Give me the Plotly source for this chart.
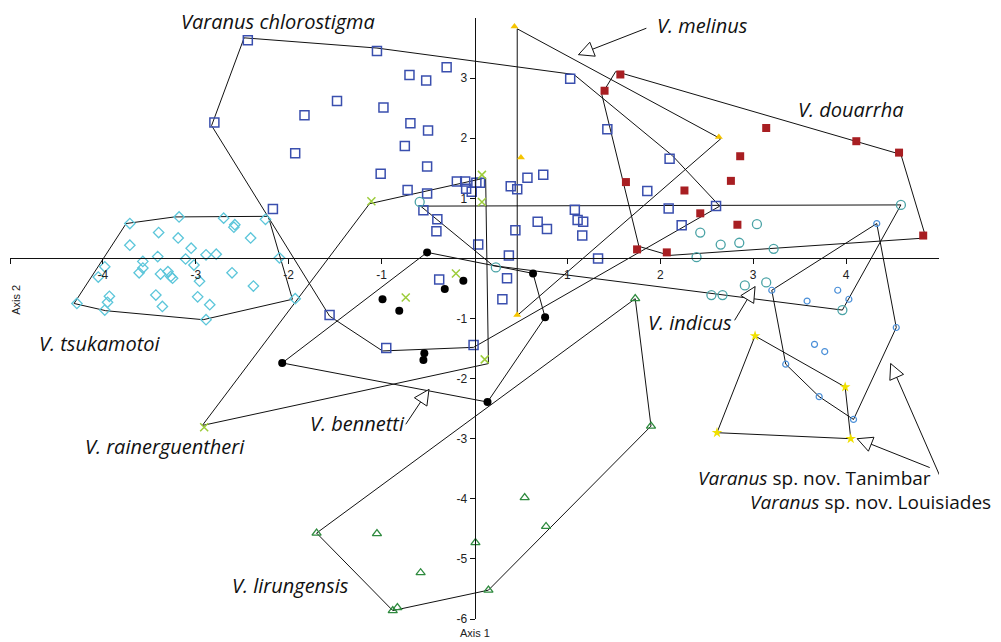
import math
import plotly.graph_objects as go

# ---------------- data ----------------
tsuk_x = [-3.71, -3.18, -2.70, -2.58, -2.59, -2.25, -3.40, -3.19, -2.41, -3.71, -3.05, -2.89, -2.78,
          -3.41, -3.11, -3.57, -2.10, -3.02, -3.98, -3.57, -4.05, -3.61, -3.30, -3.38, -3.27, -3.25,
          -2.61, -2.96, -2.38, -3.93, -3.95, -3.43, -2.98, -3.36, -2.85, -4.28, -3.98, -2.89, -1.93]
tsuk_y = [0.58, 0.69, 0.67, 0.56, 0.52, 0.65, 0.43, 0.34, 0.34, 0.22, 0.17, 0.06, 0.07,
          0.03, -0.01, -0.05, 0.01, -0.11, -0.14, -0.16, -0.31, -0.24, -0.22, -0.26, -0.30, -0.33,
          -0.24, -0.38, -0.46, -0.63, -0.73, -0.61, -0.64, -0.80, -0.77, -0.75, -0.86, -1.02, -0.67]
tsuk_hull_x = [-3.75, -3.23, -2.22, -1.96, -2.92, -3.97, -4.31]
tsuk_hull_y = [0.58, 0.69, 0.70, -0.68, -1.02, -0.87, -0.75]

chlo_x = [-2.44, -1.05, -0.30, -0.70, -0.52, -2.80, -1.48, -1.83, -0.98, -0.69, -0.50, -1.93, -0.75,
          -0.51, -1.01, -0.72, -0.51, -2.17, -0.19, -0.10, 0.02, 0.06, -0.09, -0.03, -0.55, -0.40,
          -0.41, 0.04, 0.37, 0.44, -0.38, 0.35, 0.30, -1.56, -0.95, -0.01, 0.39, 0.46, 0.57, 0.74,
          0.68, 0.78, 1.08, 1.11, 1.17, 1.16, 1.33, 1.03, 1.43, 2.10, 1.86, 2.09, 2.23, 2.60]
chlo_y = [3.63, 3.45, 3.18, 3.05, 2.96, 2.26, 2.62, 2.38, 2.51, 2.25, 2.13, 1.75, 1.87,
          1.53, 1.41, 1.14, 1.08, 0.82, 1.28, 1.28, 1.26, 1.26, 1.16, 1.11, 0.80, 0.65,
          0.45, 0.23, 0.05, 0.47, -0.35, -0.33, -0.68, -0.94, -1.49, -1.44, 1.20, 1.15, 1.34, 1.39,
          0.61, 0.49, 0.81, 0.64, 0.61, 0.38, 0.00, 2.99, 2.15, 1.66, 1.12, 0.83, 0.55, 0.87]
chlo_hull_x = [-2.48, -1.05, 1.07, 2.13, 2.64, -0.01, -0.99, -1.56, -2.83]
chlo_hull_y = [3.67, 3.50, 3.06, 1.71, 0.87, -1.48, -1.54, -0.96, 2.21]

rain_x = [-1.11, 0.08, 0.08, -0.20, -0.74, 0.11, -2.91]
rain_y = [0.95, 1.39, 0.94, -0.25, -0.65, -1.68, -2.81]
rain_hull_x = [-1.13, 0.12, 0.15, -2.93]
rain_hull_y = [0.91, 1.34, -1.75, -2.78]

benn_x = [-0.51, -0.12, -0.32, -0.99, -0.81, -0.54, -0.55, -2.07, 0.14, 0.63, 0.76]
benn_y = [0.10, -0.37, -0.51, -0.68, -0.87, -1.58, -1.69, -1.74, -2.39, -0.25, -0.98]
benn_hull_x = [-0.51, 0.63, 0.76, 0.14, -2.07]
benn_hull_y = [0.10, -0.25, -0.98, -2.39, -1.74]

meli_x = [0.43, 0.50, 2.63, 0.46]
meli_y = [3.86, 1.68, 2.02, -0.94]
meli_hull_x = [0.46, 2.65, 0.46]
meli_hull_y = [3.82, 1.99, -0.95]

doua_x = [1.57, 1.40, 1.63, 2.26, 2.43, 2.76, 2.86, 2.83, 1.75, 2.07, 3.14, 4.11, 4.57, 4.83]
doua_y = [3.06, 2.79, 1.27, 1.13, 0.75, 1.29, 1.70, 0.56, 0.15, 0.10, 2.17, 1.95, 1.76, 0.38]
doua_hull_x = [1.52, 4.59, 4.86, 2.10, 1.77, 1.37]
doua_hull_y = [3.11, 1.73, 0.34, 0.05, 0.20, 2.73]

indi_x = [-0.59, 0.23, 4.59, 3.04, 2.43, 2.65, 2.85, 3.22, 2.39, 2.91, 3.14, 2.55, 2.67, 3.96]
indi_y = [0.94, -0.15, 0.89, 0.57, 0.43, 0.23, 0.26, 0.16, 0.02, -0.45, -0.40, -0.61, -0.61, -0.86]
indi_hull_x = [-0.58, 4.59, 3.96, 0.20]
indi_hull_y = [0.87, 0.89, -0.86, -0.12]

loui_x = [4.33, 3.20, 3.91, 3.58, 4.03, 4.54, 3.66, 3.77, 3.35, 3.71, 4.08]
loui_y = [0.58, -0.53, -0.53, -0.71, -0.68, -1.15, -1.43, -1.55, -1.76, -2.30, -2.68]
loui_hull_x = [4.33, 4.54, 4.08, 3.71, 3.35, 3.20]
loui_hull_y = [0.58, -1.15, -2.68, -2.30, -1.76, -0.53]

tani_x = [3.02, 3.99, 4.05, 2.61]
tani_y = [-1.29, -2.14, -3.00, -2.90]
tani_hull_x = [3.02, 3.99, 4.05, 2.61]
tani_hull_y = [-1.29, -2.14, -3.00, -2.90]

liru_x = [1.73, 1.90, 0.54, 0.77, 0.01, 0.15, -0.83, -0.88, -0.58, -1.05, -1.70]
liru_y = [-0.67, -2.79, -3.98, -4.46, -4.73, -5.52, -5.81, -5.86, -5.23, -4.58, -4.57]
liru_hull_x = [1.73, 1.90, 0.15, -0.88, -1.70]
liru_hull_y = [-0.67, -2.79, -5.52, -5.86, -4.57]

x_ticks = [-5, -4, -3, -2, -1, 1, 2, 3, 4]
y_ticks = [-6, -5, -4, -3, -2, -1, 1, 2, 3]

# species labels: text, x, y (data coordinates)
label_text = ["V. melinus", "V. douarrha", "V. tsukamotoi",
              "V. rainerguentheri", "V. bennetti", "V. indicus", "V. lirungensis"]
label_x = [2.45, 4.05, -4.03, -3.33, -1.26, 2.32, -1.98]
label_y = [3.88, 2.48, -1.41, -3.13, -2.75, -1.07, -5.44]

# pointer arrows: tail -> tip
arrow_tail_x = [1.85, -0.74, 2.80, 4.90, 5.06]
arrow_tail_y = [3.83, -2.76, -1.03, -3.48, -3.80]
arrow_tip_x = [1.12, -0.49, 3.02, 4.12, 4.48]
arrow_tip_y = [3.39, -2.18, -0.47, -3.00, -1.75]

# ---------------- figure ----------------
# the page has an 8px body margin, so the figure is 8px smaller than the window
W, H = 993, 634
ML, MR, MT, MB = 2, 62, 10, 23
XR = [-5, 5]
YR = [-6, 4.0]
ppx = (W - ML - MR) / (XR[1] - XR[0])
ppy = (H - MT - MB) / (YR[1] - YR[0])

fig = go.Figure()

hulls = [(tsuk_hull_x, tsuk_hull_y), (chlo_hull_x, chlo_hull_y), (rain_hull_x, rain_hull_y),
         (benn_hull_x, benn_hull_y), (meli_hull_x, meli_hull_y), (doua_hull_x, doua_hull_y),
         (indi_hull_x, indi_hull_y), (loui_hull_x, loui_hull_y), (tani_hull_x, tani_hull_y),
         (liru_hull_x, liru_hull_y)]
for hx, hy in hulls:
    fig.add_trace(go.Scatter(x=hx + hx[:1], y=hy + hy[:1], mode="lines",
                             line=dict(color="#111111", width=1), hoverinfo="skip",
                             showlegend=False))

def pts(x, y, symbol, color, size, lw=1.3, fill=None):
    fig.add_trace(go.Scatter(
        x=x, y=y, mode="markers", showlegend=False,
        marker=dict(symbol=symbol, size=size, color=fill if fill else color,
                    line=dict(color=color, width=lw))))

pts(tsuk_x, tsuk_y, "diamond-open", "#5cc6da", 8)
pts(chlo_x, chlo_y, "square-open", "#3a4fae", 9, 1.5)
pts(rain_x, rain_y, "x-thin-open", "#9ccc3a", 8, 1.5)
pts(benn_x, benn_y, "circle", "#000000", 8, 0)
pts(meli_x, meli_y, "triangle-up", "#f5c400", 7, 0)
pts(doua_x, doua_y, "square", "#a81e22", 8, 0)
pts(indi_x, indi_y, "circle-open", "#4aa3a6", 9, 1.3)
pts(loui_x, loui_y, "circle-open", "#4a8fd8", 6, 1.2)
pts(tani_x, tani_y, "star", "#f0e000", 8, 0)
pts(liru_x, liru_y, "triangle-up-open", "#2e8a3e", 8, 1.3)

# arrows
for tx, ty, hx, hy in zip(arrow_tail_x, arrow_tail_y, arrow_tip_x, arrow_tip_y):
    fig.add_trace(go.Scatter(x=[tx, hx], y=[ty, hy], mode="lines",
                             line=dict(color="#111111", width=1), hoverinfo="skip",
                             showlegend=False))
    dx = (hx - tx) * ppx
    dy = -(hy - ty) * ppy
    ang = math.degrees(math.atan2(dx, -dy))
    fig.add_trace(go.Scatter(x=[hx], y=[hy], mode="markers", hoverinfo="skip", showlegend=False,
                             marker=dict(symbol="arrow-up", size=15, angle=ang, color="white",
                                         line=dict(color="#111111", width=1))))

LFONT = "Open Sans"
LCOL = "#111111"
for t, x, y in zip(label_text, label_x, label_y):
    fig.add_annotation(x=x, y=y, text="<i>%s</i>" % t, showarrow=False,
                       font=dict(family=LFONT, size=20, color=LCOL))

# top label sits above the y range -> place it on the paper
fig.add_annotation(x=-2.12, xref="x", y=1.0, yref="paper", yanchor="middle", yshift=-3,
                   text="<i>Varanus chlorostigma</i>",
                   showarrow=False, font=dict(family=LFONT, size=20, color=LCOL))

fig.add_annotation(x=3.66, y=-3.66, text="<i>Varanus</i> sp. nov. Tanimbar", showarrow=False,
                   font=dict(family=LFONT, size=19, color=LCOL))
fig.add_annotation(x=4.26, y=-4.05, text="<i>Varanus</i> sp. nov. Louisiades", showarrow=False,
                   font=dict(family=LFONT, size=19, color=LCOL))

fig.add_annotation(x=0, y=-6, yshift=-14, text="Axis 1", showarrow=False,
                   font=dict(family="Liberation Sans", size=11, color="#222222"))
fig.add_annotation(x=-5, y=-0.69, xshift=6, text="Axis 2", showarrow=False, textangle=-90,
                   font=dict(family="Liberation Sans", size=11, color="#222222"))

axis_common = dict(showgrid=False, zeroline=False, showline=True, linecolor="#111111",
                   linewidth=1, ticks="outside", ticklen=5, tickcolor="#111111", automargin=False,
                   tickfont=dict(family="Liberation Sans", size=12, color="#222222"))

fig.update_layout(
    width=W, height=H, margin=dict(l=ML, r=MR, t=MT, b=MB),
    plot_bgcolor="white", paper_bgcolor="white", showlegend=False,
    xaxis=dict(range=XR, tickvals=x_ticks, ticktext=[str(v) for v in x_ticks],
               anchor="free", position=(0 - YR[0]) / (YR[1] - YR[0]), **axis_common),
    yaxis=dict(range=YR, tickvals=y_ticks, ticktext=[str(v) for v in y_ticks],
               anchor="free", position=(0 - XR[0]) / (XR[1] - XR[0]), **axis_common),
)

fig.write_html("out.html")
